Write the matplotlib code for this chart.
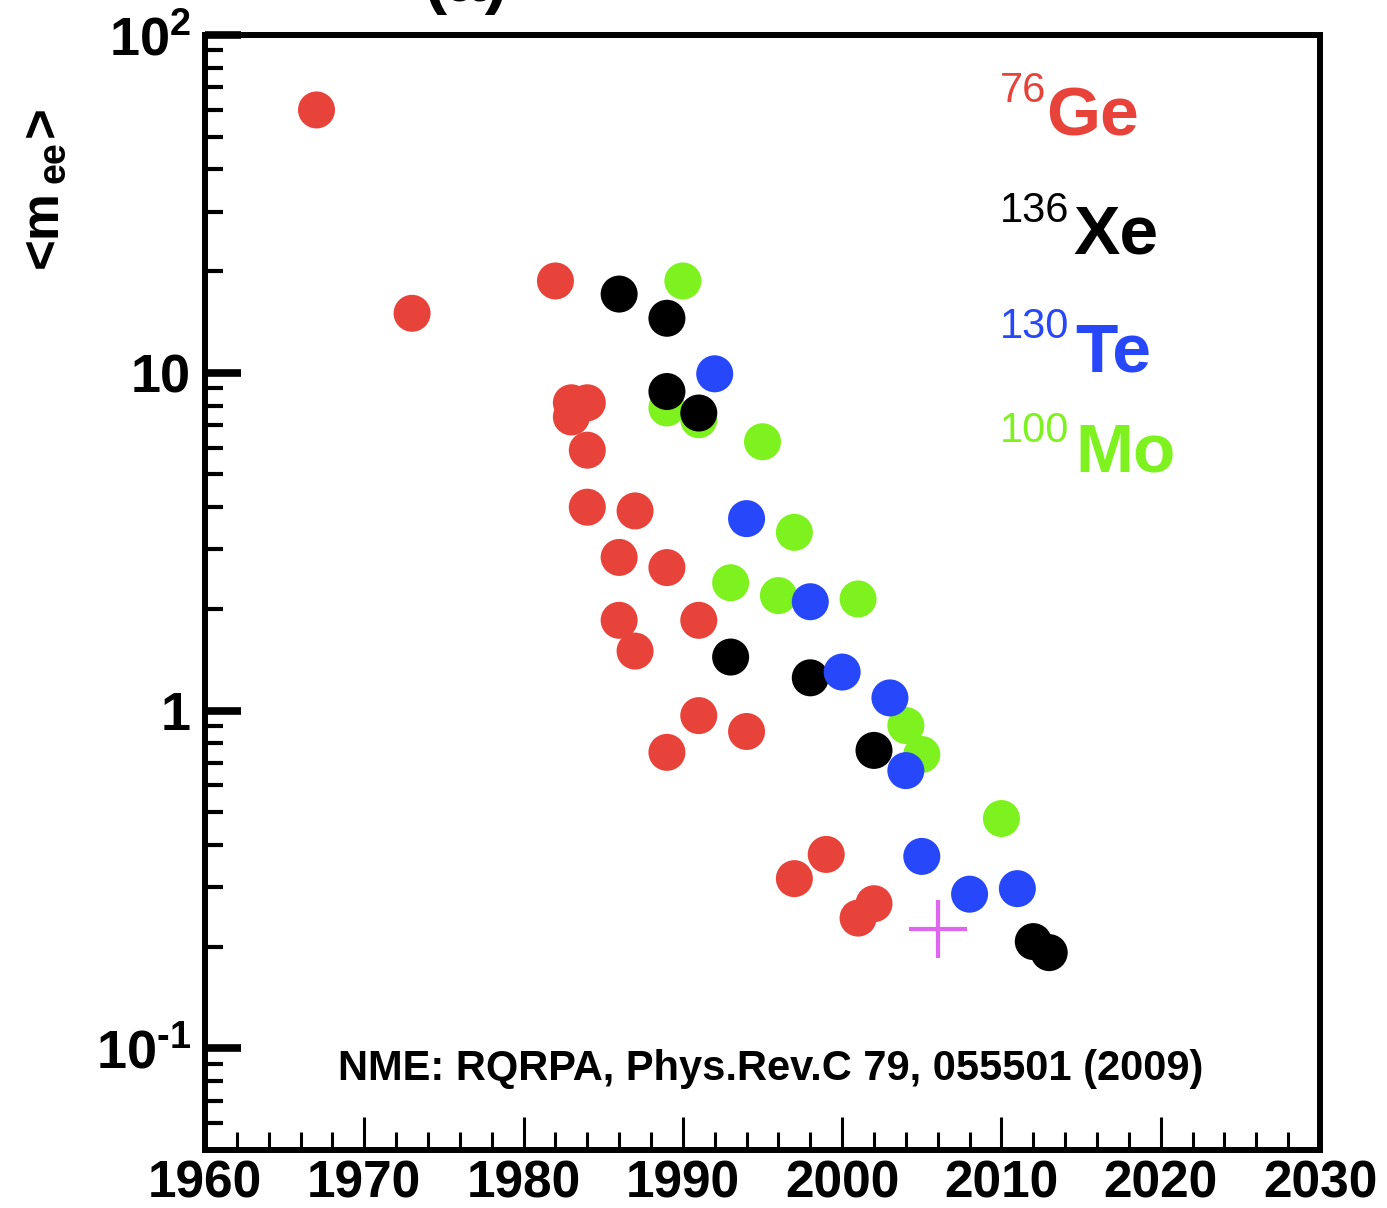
import numpy as np
import matplotlib
matplotlib.use('Agg')
import matplotlib.pyplot as plt
from matplotlib.ticker import FixedLocator, FixedFormatter, LogLocator, NullFormatter

plt.rcParams['font.family'] = ['Liberation Sans', 'DejaVu Sans']
plt.rcParams['mathtext.fontset'] = 'custom'
plt.rcParams['mathtext.rm'] = 'Liberation Sans:bold'
plt.rcParams['mathtext.it'] = 'Liberation Sans:bold'
plt.rcParams['mathtext.bf'] = 'Liberation Sans:bold'

# Data
ge_year = [1967, 1973, 1982, 1983, 1984, 1983, 1984, 1984, 1987, 1986, 1989,
           1986, 1987, 1991, 1991, 1994, 1989, 1997, 1999, 2001, 2002]
ge_mee = [60, 15, 18.7, 8.15, 8.15, 7.4, 5.9, 4.0, 3.9, 2.84, 2.65,
          1.85, 1.5, 1.85, 0.966, 0.867, 0.752, 0.318, 0.375, 0.243, 0.268]

xe_year = [1986, 1989, 1989, 1991, 1993, 1998, 2002, 2012, 2013]
xe_mee = [17.1, 14.5, 8.8, 7.6, 1.44, 1.25, 0.762, 0.207, 0.192]

te_year = [1992, 1994, 1998, 2000, 2003, 2004, 2005, 2008, 2011]
te_mee = [9.93, 3.7, 2.1, 1.30, 1.09, 0.664, 0.37, 0.286, 0.297]

mo_year = [1990, 1989, 1991, 1995, 1997, 1993, 1996, 2001, 2004, 2005, 2010]
mo_mee = [18.7, 7.87, 7.26, 6.25, 3.37, 2.39, 2.19, 2.14, 0.903, 0.741, 0.479]

cross_year = [2006]
cross_mee = [0.225]

x_ticks = [1960, 1970, 1980, 1990, 2000, 2010, 2020, 2030]
y_ticks = [0.1, 1, 10, 100]
y_ticklabels = [r'$\mathregular{10^{\text{-}1}}$', '1', '10', r'$\mathregular{10^{2}}$']

iso_mass = ['76', '136', '130', '100']
iso_name = ['Ge', 'Xe', 'Te', 'Mo']

c_red = '#E8433A'
c_black = '#000000'
c_blue = '#2647FA'
c_green = '#7EF21E'
c_cross = '#E066F0'
iso_color = [c_red, c_black, c_blue, c_green]

W, H = 1387, 1208
fig = plt.figure(figsize=(W / 100, H / 100), dpi=100)
ax = fig.add_axes([205 / W, 1 - 1150 / H, (1320 - 205) / W, (1150 - 35) / H])

ms = 710
ax.scatter(mo_year, mo_mee, s=ms, color=c_green, edgecolors='none', zorder=2)
ax.scatter(ge_year, ge_mee, s=ms, color=c_red, edgecolors='none', zorder=3)
ax.scatter(xe_year, xe_mee, s=ms, color=c_black, edgecolors='none', zorder=4)
ax.scatter(te_year, te_mee, s=ms, color=c_blue, edgecolors='none', zorder=5)
ax.plot(cross_year, cross_mee, marker='+', ms=42, mew=3, color=c_cross, ls='none', zorder=6)

ax.set_yscale('log')
ax.set_xlim(1960, 2030)
ax.set_ylim(0.05, 100)

for s in ax.spines.values():
    s.set_linewidth(4.3)

ax.xaxis.set_major_locator(FixedLocator(x_ticks))
ax.xaxis.set_minor_locator(FixedLocator(np.arange(1960, 2031, 2)))
ax.yaxis.set_major_locator(FixedLocator(y_ticks))
ax.yaxis.set_major_formatter(FixedFormatter(y_ticklabels))
ax.yaxis.set_minor_locator(LogLocator(base=10, subs=np.arange(2, 10)))
ax.yaxis.set_minor_formatter(NullFormatter())

ax.tick_params(axis='x', which='major', direction='in', length=24, width=2.2, pad=7)
ax.tick_params(axis='x', which='minor', direction='in', length=13, width=2.2)
ax.tick_params(axis='y', which='major', direction='in', length=26, width=5.5, pad=10)
ax.tick_params(axis='y', which='minor', direction='in', length=13, width=3)
for lab in ax.get_xticklabels():
    lab.set_fontsize(37)
    lab.set_fontweight('bold')
for lab in ax.get_yticklabels():
    lab.set_fontsize(39)
    lab.set_fontweight('bold')

# isotope labels
sup_base = [102, 222, 338, 442]
name_base = [135, 254, 372, 472]
name_x = [1046, 1073, 1075, 1075]
for i in range(4):
    fig.text(1000 / W, 1 - sup_base[i] / H, iso_mass[i], color=iso_color[i],
             fontsize=30, ha='left', va='baseline')
    fig.text(name_x[i] / W, 1 - name_base[i] / H, iso_name[i], color=iso_color[i],
             fontsize=50, fontweight='bold', ha='left', va='baseline')

fig.text(771 / W, 1 - 1080 / H, 'NME: RQRPA, Phys.Rev.C 79, 055501 (2009)',
         fontsize=30, fontweight='bold', ha='center', va='baseline')

# y label <m_ee>, built from pieces (rotated)
fig.text(57 / W, 1 - 268 / H, '<m', fontsize=38, fontweight='bold', rotation=90,
         rotation_mode='anchor', ha='left', va='baseline')
fig.text(65 / W, 1 - 183 / H, 'ee', fontsize=27, fontweight='bold', rotation=90,
         rotation_mode='anchor', ha='left', va='baseline')
fig.text(57 / W, 1 - 137 / H, '>', fontsize=38, fontweight='bold', rotation=90,
         rotation_mode='anchor', ha='left', va='baseline')

# panel title, cut off at the top edge as in the original
fig.text(466 / W, 1 - 1 / H, '(a)', fontsize=50, fontweight='bold',
         ha='center', va='baseline')

fig.savefig('out.png', dpi=100)
